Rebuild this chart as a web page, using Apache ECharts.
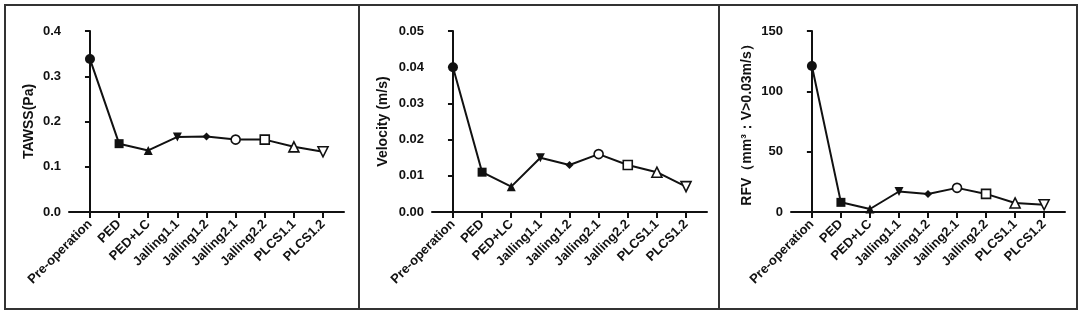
<!DOCTYPE html>
<html>
<head>
<meta charset="utf-8">
<script src="https://cdn.jsdelivr.net/npm/echarts@6/dist/echarts.min.js"></script>
<style>
html,body{margin:0;padding:0;background:#fff;}
#chart{width:1084px;height:318px;}
</style>
</head>
<body>
<div id="chart"></div>
<script>
// ---- data ----
const categories = ['Pre-operation','PED','PED+LC','Jalling1.1','Jalling1.2','Jalling2.1','Jalling2.2','PLCS1.1','PLCS1.2'];
const tawss = [0.338, 0.151, 0.136, 0.166, 0.167, 0.160, 0.160, 0.144, 0.133];
const velocity = [0.040, 0.011, 0.007, 0.015, 0.013, 0.016, 0.013, 0.011, 0.007];
const rfv = [121, 8, 2.5, 17, 15, 20, 15, 7.5, 6];
const yNames = ['TAWSS(Pa)', 'Velocity (m/s)', 'RFV（mm³：V>0.03m/s）'];
const yMax = [0.4, 0.05, 150];
const yInterval = [0.1, 0.01, 50];
const yDecimals = [1, 2, 0];

// ---- style ----
const markerStyles = [
  {symbol:'circle', size:10, fill:true},
  {symbol:'rect', size:9, fill:true},
  {symbol:'triangle', size:9, fill:true, rot:0},
  {symbol:'triangle', size:9, fill:true, rot:180},
  {symbol:'diamond', size:8, fill:true},
  {symbol:'circle', size:9, fill:false},
  {symbol:'rect', size:9, fill:false},
  {symbol:'triangle', size:10, fill:false, rot:0},
  {symbol:'triangle', size:10, fill:false, rot:180}
];
const grids = [
  {left:69, width:275, top:31, height:181},
  {left:432, width:275, top:31, height:181},
  {left:791, width:274, top:31, height:181}
];
const nameGaps = [33, 42, 37];
const font = 'Liberation Sans, Arial, sans-serif';
const ink = '#111';

const allSeries = [tawss, velocity, rfv];
const idx = categories.map((c,i)=>i);

const option = {
  backgroundColor:'#fff',
  animation:false,
  grid: grids,
  xAxis: grids.map((g,k)=>({
    type:'value', gridIndex:k, min:-0.72, max:8.72,
    splitLine:{show:false},
    axisLine:{show:true, lineStyle:{color:ink, width:2}},
    axisTick:{show:true, customValues:idx, length:6, lineStyle:{color:ink, width:2}},
    axisLabel:{show:true, customValues:idx, rotate:45, margin:10, interval:0,
      formatter:(v)=>categories[Math.round(v)] ?? '',
      color:ink, fontFamily:font, fontWeight:'bold', fontSize:13}
  })),
  yAxis: grids.map((g,k)=>({
    type:'value', gridIndex:k, min:0, max:yMax[k], interval:yInterval[k],
    name:yNames[k], nameLocation:'middle', nameGap:nameGaps[k],
    nameTextStyle:{color:ink, fontFamily:font, fontWeight:'bold', fontSize:14},
    splitLine:{show:false},
    axisLine:{show:true, lineStyle:{color:ink, width:2}},
    axisTick:{show:true, length:5, lineStyle:{color:ink, width:2}},
    axisLabel:{color:ink, fontFamily:font, fontWeight:'bold', fontSize:13, margin:8,
      formatter:(v)=>v.toFixed(yDecimals[k])}
  })),
  series: allSeries.map((arr,k)=>({
    type:'line', xAxisIndex:k, yAxisIndex:k,
    lineStyle:{color:ink, width:2},
    z:3,
    data: arr.map((v,i)=>{
      const m = markerStyles[i];
      return {
        value:[i, v],
        symbol:m.symbol, symbolSize:m.size, symbolRotate:m.rot||0,
        itemStyle: m.fill ? {color:ink, borderColor:ink, borderWidth:0}
                          : {color:'#fff', borderColor:ink, borderWidth:1.6}
      };
    })
  })),
  graphic: [
    {type:'rect', shape:{x:5, y:5, width:1072, height:304}, style:{fill:null, stroke:'#333', lineWidth:2}, silent:true},
    {type:'line', shape:{x1:359, y1:5, x2:359, y2:309}, style:{stroke:'#333', lineWidth:2}, silent:true},
    {type:'line', shape:{x1:719, y1:5, x2:719, y2:309}, style:{stroke:'#333', lineWidth:2}, silent:true}
  ]
};

const chart = echarts.init(document.getElementById('chart'), null, {renderer:'canvas'});
chart.setOption(option);
</script>
</body>
</html>
